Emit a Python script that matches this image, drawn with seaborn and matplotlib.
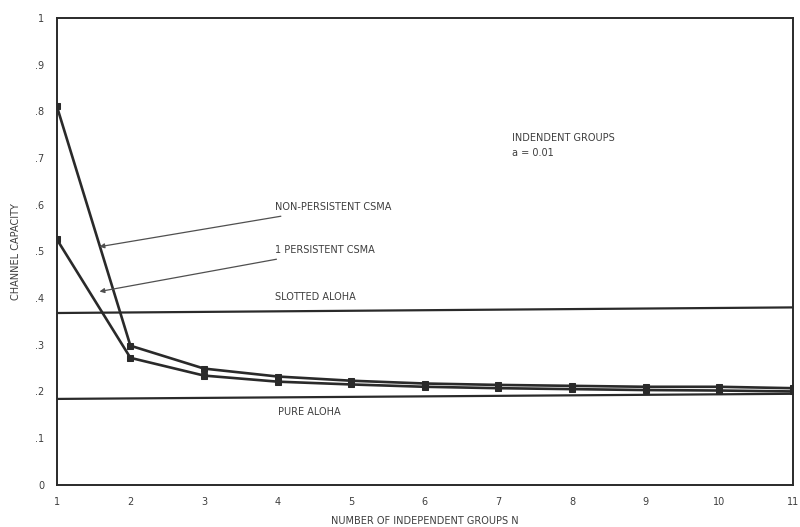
import matplotlib
matplotlib.use("Agg")
import matplotlib.pyplot as plt
import seaborn as sns
import pandas as pd

# values
groups_n = [1, 2, 3, 4, 5, 6, 7, 8, 9, 10, 11]
non_persistent = [0.811, 0.298, 0.249, 0.232, 0.223, 0.217, 0.214, 0.212, 0.210, 0.210, 0.207]
one_persistent = [0.526, 0.272, 0.234, 0.221, 0.215, 0.210, 0.207, 0.205, 0.203, 0.202, 0.200]
slotted_aloha = [0.368, 0.380]   # at N=1 and N=11 (scan is slightly tilted)
pure_aloha = [0.184, 0.195]
y_ticks = [0, .1, .2, .3, .4, .5, .6, .7, .8, .9, 1]
y_tick_labels = ["0", ".1", ".2", ".3", ".4", ".5", ".6", ".7", ".8", ".9", "1"]

ink = "#2a2a2a"
text_col = "#3e3e3e"

sns.set_style("white")
plt.rcParams['font.family'] = ['DejaVu Sans']

fig = plt.figure(figsize=(8, 5.27), dpi=100)
ax = fig.add_axes([0.071, 0.080, 0.920, 0.886])

df = pd.DataFrame({
    "N": groups_n * 2,
    "capacity": non_persistent + one_persistent,
    "scheme": ["NON-PERSISTENT CSMA"] * len(groups_n) + ["1 PERSISTENT CSMA"] * len(groups_n),
})
sns.lineplot(data=df, x="N", y="capacity", units="scheme", estimator=None,
             color=ink, lw=1.9, marker="s", markersize=4, markeredgecolor=ink,
             ax=ax, legend=False)

aloha = pd.DataFrame({"N": [1, 11, 1, 11],
                      "capacity": slotted_aloha + pure_aloha,
                      "scheme": ["slotted", "slotted", "pure", "pure"]})
sns.lineplot(data=aloha, x="N", y="capacity", units="scheme", estimator=None,
             color=ink, lw=1.6, ax=ax, legend=False)

fs = 7
ax.annotate("NON-PERSISTENT CSMA", xy=(1.58, 0.51), xytext=(3.96, 0.594),
            fontsize=fs, color=text_col, va="center",
            arrowprops=dict(arrowstyle="-|>", color="#505050", lw=0.9,
                            shrinkA=2, shrinkB=0, mutation_scale=7))
ax.annotate("1 PERSISTENT CSMA", xy=(1.58, 0.414), xytext=(3.96, 0.502),
            fontsize=fs, color=text_col, va="center",
            arrowprops=dict(arrowstyle="-|>", color="#505050", lw=0.9,
                            shrinkA=2, shrinkB=0, mutation_scale=7))
ax.text(3.96, 0.403, "SLOTTED ALOHA", fontsize=fs, color=text_col, va="center")
ax.text(4.0, 0.155, "PURE ALOHA", fontsize=fs, color=text_col, va="center")
ax.text(7.18, 0.742, "INDENDENT GROUPS", fontsize=fs, color=text_col, va="center")
ax.text(7.18, 0.710, "a = 0.01", fontsize=fs, color=text_col, va="center")

ax.set_xlim(1, 11)
ax.set_ylim(0, 1)
ax.set_xticks(groups_n)
ax.set_xticklabels([str(n) for n in groups_n])
ax.set_yticks(y_ticks)
ax.set_yticklabels(y_tick_labels)
ax.tick_params(direction="in", length=5, width=1, colors=ink, labelsize=7,
               labelcolor=text_col, pad=9)
for s in ax.spines.values():
    s.set_color(ink)
    s.set_linewidth(1.4)

ax.set_xlabel("NUMBER OF INDEPENDENT GROUPS N", fontsize=7, color=text_col, labelpad=6)
ax.set_ylabel("CHANNEL CAPACITY", fontsize=7, color=text_col, labelpad=10)

fig.savefig("out.png", dpi=100)
